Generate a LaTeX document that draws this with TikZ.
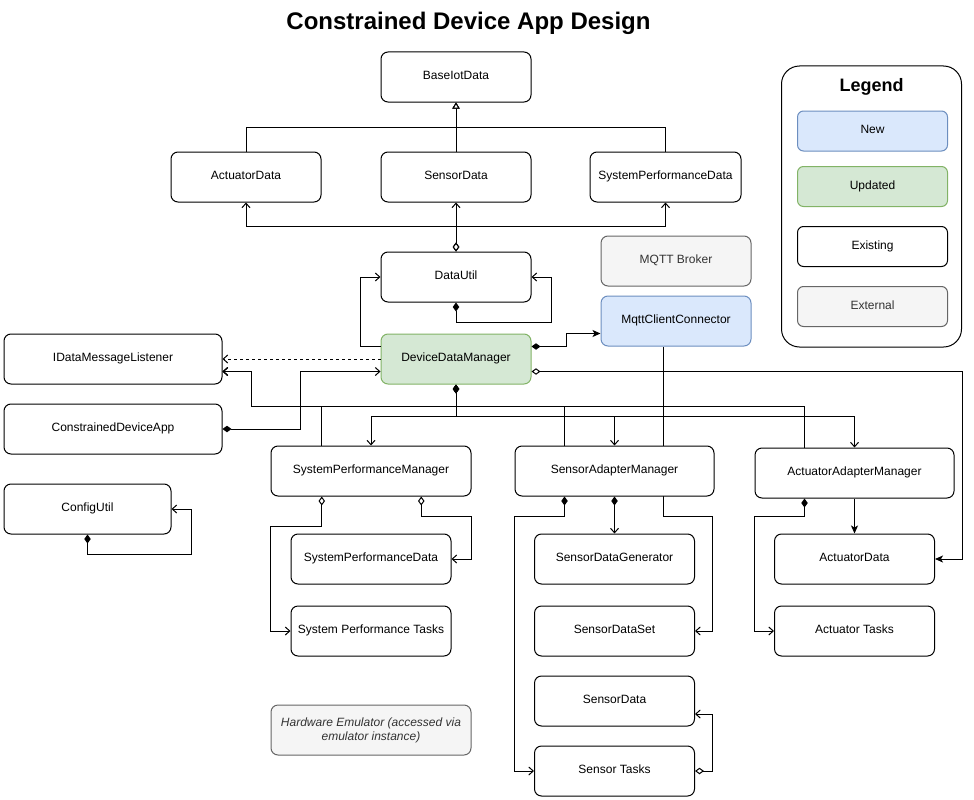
\documentclass[tikz,border=0pt]{standalone}
\usepackage{fontspec}
\setmainfont{Liberation Sans}
\usetikzlibrary{arrows.meta,calc,backgrounds}
\definecolor{newfill}{HTML}{DAE8FC}
\definecolor{newdraw}{HTML}{6C8EBF}
\definecolor{updfill}{HTML}{D5E8D4}
\definecolor{upddraw}{HTML}{82B366}
\definecolor{extfill}{HTML}{F5F5F5}
\definecolor{extdraw}{HTML}{666666}
\definecolor{exttext}{HTML}{333333}
\tikzset{
  OArr/.tip={Straight Barb[length=4.5pt,width=8pt]},
  SArr/.tip={Stealth[length=8pt,width=7pt,inset=2pt]},
  ODia/.tip={Diamond[length=9pt,width=6.5pt,fill=white]},
  FDia/.tip={Diamond[length=9pt,width=6.5pt]},
  Inh/.tip={Triangle[length=6pt,width=7pt,fill=white]},
}
\begin{document}
\begin{tikzpicture}[x=1pt,y=-1pt,line width=1pt,
  boxbase/.style={draw=black,fill=white,rounded corners=7pt,minimum height=50pt,inner sep=2pt,align=center,font={\fontsize{12}{14}\selectfont}},
  box/.style={boxbase,text height=9.4pt,text depth=4pt},
  newbox/.style={box,draw=newdraw,fill=newfill},
  updbox/.style={box,draw=upddraw,fill=updfill},
  extbox/.style={box,draw=extdraw,fill=extfill,text=exttext},
  legitem/.style={minimum width=150pt,minimum height=40pt,rounded corners=6pt},
  conn/.style={draw=black,line width=1pt}
]
\useasboundingbox (0,0) rectangle (974,800);

% title
\node[font={\fontsize{24}{28}\selectfont\bfseries}] (title) at (468.5,23) {Constrained Device App Design};

% legend
\node[draw=black,fill=white,rounded corners=18pt,minimum width=180pt,minimum height=281pt] (legend) at (871.5,206.5) {};
\node[font={\fontsize{18}{22}\selectfont\bfseries}] (legtitle) at (871.5,87) {Legend};
\node[newbox,legitem] (lnew) at (872.5,131) {New};
\node[updbox,legitem] (lupd) at (872.5,186.5) {Updated};
\node[box,legitem] (lexist) at (872.5,246.5) {Existing};
\node[extbox,legitem] (lext) at (872.5,306.5) {External};

% data classes
\node[box,minimum width=150pt] (base) at (456,77) {BaseIotData};
\node[box,minimum width=150pt] (adTop) at (246,177) {ActuatorData};
\node[box,minimum width=150pt] (sdTop) at (456,177) {SensorData};
\node[box,minimum width=151pt] (spdTop) at (665.5,177) {SystemPerformanceData};

% utilities and managers
\node[box,minimum width=150pt] (du) at (456,277) {DataUtil};
\node[updbox,minimum width=150pt] (ddm) at (456,359) {DeviceDataManager};
\node[extbox,minimum width=150pt] (mqtt) at (676,261) {MQTT Broker};
\node[newbox,minimum width=150pt] (mcc) at (676,321) {MqttClientConnector};

\node[box,minimum width=218pt] (idml) at (113,359) {IDataMessageListener};
\node[box,minimum width=218pt] (cda) at (113,429) {ConstrainedDeviceApp};
\node[box,minimum width=167pt] (cfg) at (87.5,509) {ConfigUtil};

\node[box,minimum width=200pt] (spm) at (371,471) {SystemPerformanceManager};
\node[box,minimum width=199pt] (sam) at (614.5,471) {SensorAdapterManager};
\node[box,minimum width=199pt] (aam) at (854.5,473) {ActuatorAdapterManager};

\node[box,minimum width=160pt] (spd) at (371,559) {SystemPerformanceData};
\node[box,minimum width=160pt] (spt) at (371,631) {System Performance Tasks};

\node[box,minimum width=160pt] (sdg) at (614.5,559) {SensorDataGenerator};
\node[box,minimum width=160pt] (sds) at (614.5,631) {SensorDataSet};
\node[box,minimum width=160pt] (sdata) at (614.5,701) {SensorData};
\node[box,minimum width=160pt] (stasks) at (614.5,771) {Sensor Tasks};

\node[box,minimum width=160pt] (adata) at (854.5,559) {ActuatorData};
\node[box,minimum width=160pt] (atasks) at (854.5,631) {Actuator Tasks};

\node[boxbase,draw=extdraw,fill=extfill,text=exttext,minimum width=200pt,font={\fontsize{12}{14}\selectfont\itshape}] (hw) at (371,730) {Hardware Emulator (accessed via\\emulator instance)};

% inheritance
\coordinate (j1) at ($(base.south)!.5!(sdTop.north)$);
\draw[conn,-Inh] (sdTop.north) -- (base.south);
\draw[conn,-Inh] (adTop.north) |- (j1) -- (base.south);
\draw[conn,-Inh] (spdTop.north) |- (j1) -- (base.south);

% DataUtil -> data classes
\coordinate (j2) at ($(du.north)+(0,-25)$);
\draw[conn,ODia-OArr] (du.north) -- (sdTop.south);
\draw[conn,ODia-OArr] (du.north) -- (j2) -| (adTop.south);
\draw[conn,ODia-OArr] (du.north) -- (j2) -| (spdTop.south);

% DataUtil self loop
\draw[conn,FDia-OArr] (du.south) -- ++(0,20) -| ($(du.east)+(20,0)$) -- (du.east);

% DDM -> DataUtil
\draw[conn,-OArr] ($(ddm.west)+(0,-12.5)$) -| ($(du.west)+(-20,0)$) -- (du.west);

% DDM -> IDataMessageListener (dashed)
\draw[conn,dash pattern=on 3pt off 3pt,-OArr] (ddm.west) -- (idml.east);

% ConstrainedDeviceApp -> DDM
\draw[conn,FDia-OArr] (cda.east) -| ($(ddm.west)+(-80,12.5)$) -- ($(ddm.west)+(0,12.5)$);

% managers -> IDataMessageListener
\coordinate (j3) at (251.5,406);
\draw[conn,-OArr] ($(spm.north west)!.255!(spm.north east)$) |- (j3) |- ($(idml.east)+(0,12.5)$);
\draw[conn,-OArr] ($(sam.north west)!.25!(sam.north east)$) |- (j3) |- ($(idml.east)+(0,12.5)$);
\draw[conn,-OArr] ($(aam.north west)!.25!(aam.north east)$) |- (j3) |- ($(idml.east)+(0,12.5)$);

% DDM -> managers
\coordinate (j4) at ($(ddm.south)+(0,32)$);
\draw[conn,FDia-OArr] (ddm.south) -- (j4) -| (spm.north);
\draw[conn,FDia-OArr] (ddm.south) -- (j4) -| (sam.north);
\draw[conn,FDia-OArr] (ddm.south) -- (j4) -| (aam.north);

% DDM -> MqttClientConnector
\draw[conn,FDia-SArr] ($(ddm.east)+(0,-12.5)$) -- ++(35,0) |- ($(mcc.west)+(0,12.5)$);

% DDM -> ActuatorData
\draw[conn,ODia-SArr] ($(ddm.east)+(0,12.5)$) -| ($(adata.east)+(27,0)$) -- (adata.east);

% MqttClientConnector -> SensorDataSet (behind SensorAdapterManager)
\begin{scope}[on background layer]
\draw[conn,-OArr] ($(mcc.south west)!.42!(mcc.south east)$) -- ++(0,170) -| ($(sds.east)+(17,0)$) -- (sds.east);
\end{scope}

% SystemPerformanceManager
\draw[conn,ODia-OArr] ($(spm.south west)!.255!(spm.south east)$) -- ++(0,30) -| ($(spt.west)+(-20,0)$) -- (spt.west);
\draw[conn,ODia-OArr] ($(spm.south west)!.75!(spm.south east)$) -- ++(0,20) -| ($(spd.east)+(20,0)$) -- (spd.east);

% SensorAdapterManager
\draw[conn,FDia-OArr] ($(sam.south west)!.25!(sam.south east)$) -- ++(0,20) -| ($(stasks.west)+(-20,0)$) -- (stasks.west);
\draw[conn,FDia-OArr] (sam.south) -- (sdg.north);
\draw[conn,ODia-OArr] (stasks.east) -- ++(17,0) |- ($(sdata.east)+(0,13)$);

% ActuatorAdapterManager
\draw[conn,-SArr] (aam.south) -- (adata.north);
\draw[conn,FDia-OArr] ($(aam.south west)!.25!(aam.south east)$) -- ++(0,18) -| ($(atasks.west)+(-20,0)$) -- (atasks.west);

% ConfigUtil self loop
\draw[conn,FDia-OArr] (cfg.south) -- ++(0,20) -| ($(cfg.east)+(20,0)$) -- (cfg.east);
\end{tikzpicture}
\end{document}
